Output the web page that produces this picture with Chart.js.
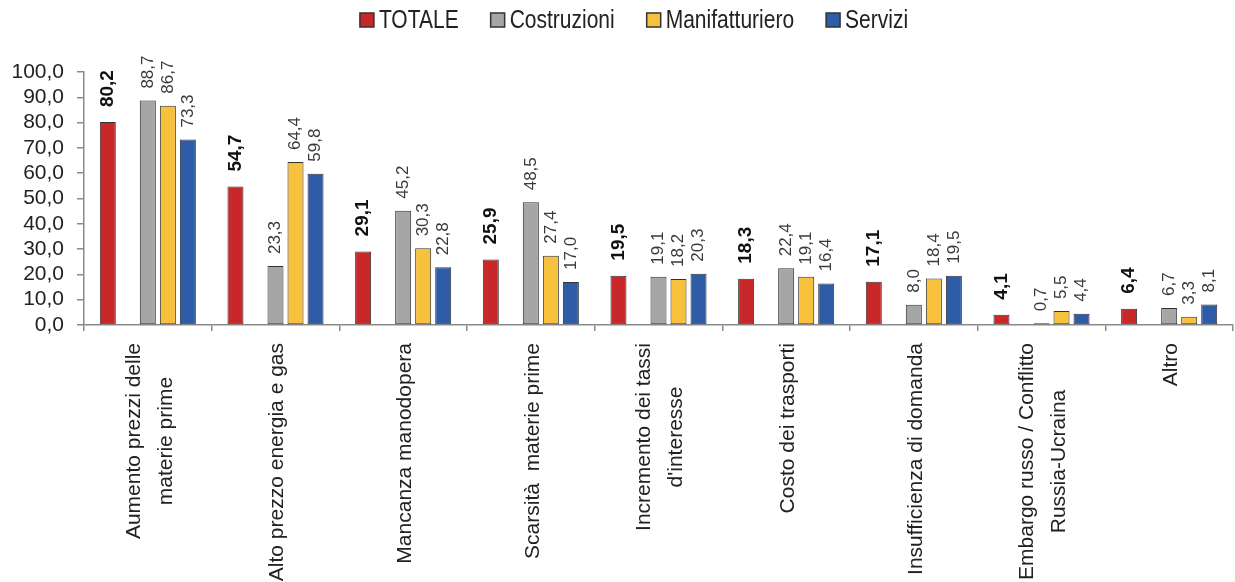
<!DOCTYPE html>
<html>
<head>
<meta charset="utf-8">
<script src="https://cdn.jsdelivr.net/npm/chart.js@4.4.1/dist/chart.umd.min.js"></script>
<style>
  html, body { margin: 0; padding: 0; background: #fff; }
  #barChart { display: block; }
</style>
</head>
<body>
<canvas id="barChart" width="1235" height="582"></canvas>
<script>
const categories = [
  ['Aumento prezzi delle', 'materie prime'],
  ['Alto prezzo energia e gas'],
  ['Mancanza manodopera'],
  ['Scarsità  materie prime'],
  ['Incremento dei tassi', "d'interesse"],
  ['Costo dei trasporti'],
  ['Insufficienza di domanda'],
  ['Embargo russo / Conflitto', 'Russia-Ucraina'],
  ['Altro'],
];
const totale = [80.2, 54.7, 29.1, 25.9, 19.5, 18.3, 17.1, 4.1, 6.4];
const costruzioni = [88.7, 23.3, 45.2, 48.5, 19.1, 22.4, 8.0, 0.7, 6.7];
const manifatturiero = [86.7, 64.4, 30.3, 27.4, 18.2, 19.1, 18.4, 5.5, 3.3];
const servizi = [73.3, 59.8, 22.8, 17.0, 20.3, 16.4, 19.5, 4.4, 8.1];
const seriesNames = ['TOTALE', 'Costruzioni', 'Manifatturiero', 'Servizi'];
const seriesColors = ['#c8282a', '#a6a6a6', '#f8c13d', '#2e5ca6'];
const yTicks = [0, 10, 20, 30, 40, 50, 60, 70, 80, 90, 100];

const fmt = (v) => v.toFixed(1).replace('.', ',');
const axisColor = '#8a8a8a';
const regular = '"Liberation Sans", Arial, sans-serif';
const squeeze = 0.84; // the original uses a condensed face

// legend, category labels and value labels are drawn here
const decorations = {
  id: 'decorations',
  afterDatasetsDraw(chart) {
    const ctx = chart.ctx;
    ctx.save();
    chart.data.datasets.forEach((ds, di) => {
      if (ds.spacer) return;
      const meta = chart.getDatasetMeta(di);
      meta.data.forEach((bar, i) => {
        const v = ds.data[i];
        const bold = di === 0;
        ctx.save();
        ctx.translate(bar.x, bar.y - (bold ? 15 : 12));
        ctx.rotate(-Math.PI / 2);
        ctx.font = (bold ? 'bold 19px ' : '17px ') + regular;
        ctx.fillStyle = bold ? '#111' : '#3a3a3a';
        ctx.textAlign = 'left';
        ctx.textBaseline = 'middle';
        ctx.fillText(fmt(v), 0, 0);
        ctx.restore();
      });
    });
    ctx.restore();
  },
  afterDraw(chart) {
    const ctx = chart.ctx;
    const x = chart.scales.x;
    ctx.save();

    // category labels, rotated, block centred on the longest line
    ctx.font = '21px ' + regular;
    ctx.fillStyle = '#222';
    ctx.textAlign = 'center';
    ctx.textBaseline = 'middle';
    categories.forEach((lines, i) => {
      const cx = x.getPixelForValue(i) + 2;
      const maxW = Math.max(...lines.map((l) => ctx.measureText(l).width));
      const mid = chart.chartArea.bottom + 18 + maxW / 2;
      lines.forEach((line, j) => {
        ctx.save();
        ctx.translate(cx + (j - (lines.length - 1) / 2) * 32, mid);
        ctx.rotate(-Math.PI / 2);
        ctx.fillText(line, 0, 0);
        ctx.restore();
      });
    });

    // legend
    ctx.font = '25px ' + regular;
    const box = 14, gap = 5, spacing = 32;
    const widths = seriesNames.map((n) => ctx.measureText(n).width * squeeze);
    const total = widths.reduce((a, w) => a + box + gap + w, 0) + spacing * (seriesNames.length - 1);
    let lx = 634 - total / 2;
    const ly = 20;
    ctx.textAlign = 'left';
    seriesNames.forEach((name, i) => {
      ctx.fillStyle = seriesColors[i];
      ctx.fillRect(lx, ly - box / 2, box, box);
      ctx.strokeStyle = '#333';
      ctx.lineWidth = 1.5;
      ctx.strokeRect(lx, ly - box / 2, box, box);
      ctx.save();
      ctx.translate(lx + box + gap, ly + 1);
      ctx.scale(squeeze, 1);
      ctx.fillStyle = '#222';
      ctx.fillText(name, 0, 0);
      ctx.restore();
      lx += box + gap + widths[i] + spacing;
    });
    ctx.restore();
  },
};

const seriesData = [totale, costruzioni, manifatturiero, servizi];
const datasets = seriesData.map((d, i) => ({
  label: seriesNames[i],
  data: d,
  backgroundColor: seriesColors[i],
  borderColor: '#333',
  borderWidth: 1,
  borderSkipped: false,
}));
// empty slot between TOTALE and the sector bars
datasets.splice(1, 0, { label: '', data: categories.map(() => null), spacer: true });

new Chart(document.getElementById('barChart'), {
  type: 'bar',
  data: {
    labels: categories.map((c) => c.join(' ')),
    datasets: datasets,
  },
  options: {
    responsive: false,
    animation: false,
    events: [],
    categoryPercentage: 0.784,
    barPercentage: 0.8,
    layout: { padding: { top: 72, right: 2, left: 0, bottom: 0 } },
    scales: {
      x: {
        offset: true,
        grid: { offset: true, drawOnChartArea: false, drawTicks: true, tickLength: 6, color: axisColor, lineWidth: 1.5 },
        border: { color: axisColor, width: 1.5 },
        ticks: { display: false },
        afterFit: (s) => { s.height = 257; },
      },
      y: {
        min: 0,
        max: 100,
        afterBuildTicks: (s) => { s.ticks = yTicks.map((v) => ({ value: v })); },
        grid: { drawOnChartArea: false, drawTicks: true, tickLength: 7, color: axisColor, lineWidth: 1.5 },
        border: { color: axisColor, width: 1.5 },
        ticks: {
          autoSkip: false,
          padding: 13,
          color: '#222',
          font: { family: regular, size: 21 },
          callback: (v) => fmt(v),
        },
        afterFit: (s) => { s.width = 84; },
      },
    },
    plugins: {
      legend: { display: false },
      tooltip: { enabled: false },
    },
  },
  plugins: [decorations],
});
</script>
</body>
</html>
